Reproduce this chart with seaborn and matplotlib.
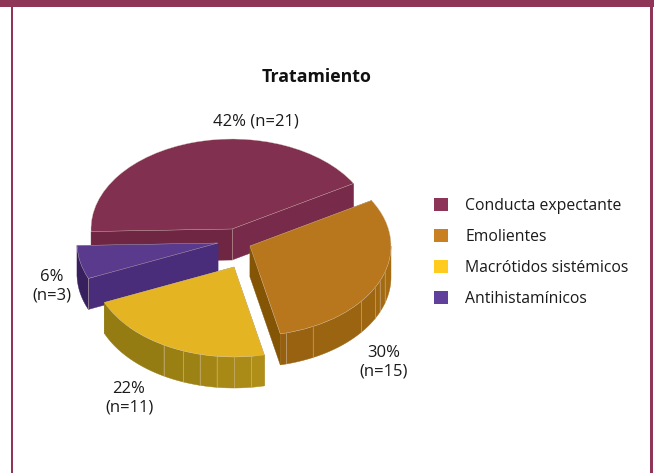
import numpy as np
import matplotlib
matplotlib.use("Agg")
import matplotlib.pyplot as plt
from matplotlib.patches import Patch, Rectangle
import seaborn as sns

# Data
categories = ["Conducta expectante", "Emolientes", "Macrótidos sistémicos", "Antihistamínicos"]
counts = [21, 15, 11, 3]
title = "Tratamiento"

# Colours: top face, legend, outer wall (dark to light), cut faces (theta1, theta2)
top_colors = ["#82304f", "#b9771d", "#e4b423", "#5a3a8c"]
legend_colors = ["#8c3558", "#c98022", "#ffcb1f", "#60409a"]
wall_colors = [("#6e2642", "#6e2642"), ("#96600f", "#a56c12"), ("#947b12", "#b08f18"), ("#38205e", "#38205e")]
cut_colors = [("#772a4a", "#6e2642"), ("#855506", "#855506"), ("#947b12", "#947b12"), ("#4a2d7a", "#4a2d7a")]
border_color = "#8e3558"
edge_color = "#d9c9b8"

# Layout in pixels of the 654x473 figure
W, H = 654, 473
cx, cy = 232, 229
rx, ry = 141, 90
depth = 31 / ry
shift_px = [(0, 0), (18, 17), (2, 38), (-14, 14)]
facet_angles = [[], [-75, -63.5, -38, -27.5, -23, -17], [-120, -111, -104, -97, -90, -83], []]
draw_order = [0, 1, 3, 2]
label_pos = [(256, 121), (384, 362), (129, 398.5), (52, 286)]
label_fmt = ["{p}% (n={n})", "{p}%\n(n={n})", "{p}%\n(n={n})", "{p}%\n(n={n})"]

sns.set_theme(style="white")
plt.rcParams["font.family"] = ["Open Sans", "DejaVu Sans"]

fig = plt.figure(figsize=(W / 100, H / 100), dpi=100)
ax = fig.add_axes([0, 0, 1, 1])

wedges, _ = ax.pie(counts, colors=top_colors, startangle=181.6, counterclock=False, radius=1)

# squash the pie, one unit is rx pixels across and ry pixels down
ax.set_aspect("auto")
ax.set_xlim(-cx / rx, (W - cx) / rx)
ax.set_ylim(-(H - cy) / ry, cy / ry)


def rim(center, theta):
    t = np.radians(theta)
    return center[0] + np.cos(t), center[1] + np.sin(t)


def draw_wall(center, t1, t2, color, z):
    t = np.radians(np.linspace(t1, t2, 40))
    x = center[0] + np.cos(t)
    y = center[1] + np.sin(t)
    ax.fill(np.r_[x, x[::-1]], np.r_[y, y[::-1] - depth], color=color, lw=0.3, zorder=z)


for z, i in enumerate(draw_order):
    w = wedges[i]
    center = (shift_px[i][0] / rx, -shift_px[i][1] / ry)
    w.set_center(center)
    w.set_zorder(z * 10 + 5)
    w.set_edgecolor(edge_color)
    w.set_linewidth(0.25)

    # cut faces
    for theta, col in zip((w.theta1, w.theta2), cut_colors[i]):
        x, y = rim(center, theta)
        ax.fill([center[0], x, x, center[0]], [center[1], y, y - depth, center[1] - depth],
                color=col, lw=0.3, zorder=z * 10 + (2 if np.sin(np.radians(theta)) < 0 else 1))

    # outer wall, only the front half shows
    a = max(w.theta1, -180)
    b = min(w.theta2, 0)
    if b > a:
        stops = [a] + facet_angles[i] + [b]
        for s, (t1, t2) in enumerate(zip(stops[:-1], stops[1:])):
            mix = s / max(len(stops) - 2, 1)
            col = sns.blend_palette(wall_colors[i], 11)[int(round(mix * 10))]
            draw_wall(center, t1, t2, col, z * 10 + 3)
        for theta in facet_angles[i]:
            x, y = rim(center, theta)
            ax.plot([x, x], [y, y - depth], color=edge_color, lw=0.5, alpha=0.6, zorder=z * 10 + 4)

# light corner lines
ax.plot([0, 0], [0, -depth], color=edge_color, lw=0.5, alpha=0.7, zorder=4)
x, y = rim((shift_px[3][0] / rx, -shift_px[3][1] / ry), wedges[3].theta2)
ax.plot([x, x], [y, y - depth], color=edge_color, lw=0.5, alpha=0.7, zorder=24)

# percentage labels
total = sum(counts)
for n, pos, fmt in zip(counts, label_pos, label_fmt):
    fig.text(pos[0] / W, 1 - pos[1] / H, fmt.format(p=round(100 * n / total), n=n),
             ha="center", va="center", fontsize=12, color="#1a1a1a", linespacing=1.22)

fig.text(317 / W, 1 - 77.5 / H, title, ha="center", va="center", fontsize=12.8, fontweight="bold", color="#111111")

handles = [Patch(facecolor=c, edgecolor="none") for c in legend_colors]
ax.legend(handles, categories, loc="center left", bbox_to_anchor=(434 / W, 1 - 252.5 / H), frameon=False,
          fontsize=11.3, handlelength=0.9, handleheight=0.9, handletextpad=1.08, labelspacing=0.95,
          borderpad=0, borderaxespad=0, labelcolor="#1a1a1a")

# page border
for x0, y0, w0, h0 in [(0.0, 1 - 7.5 / H, 1.0, 7.5 / H), (10.5 / W, 0, 2.5 / W, 1), (650 / W, 0, 2.5 / W, 1)]:
    fig.add_artist(Rectangle((x0, y0), w0, h0, transform=fig.transFigure, color=border_color, lw=0))

fig.savefig("out.png", dpi=100)
